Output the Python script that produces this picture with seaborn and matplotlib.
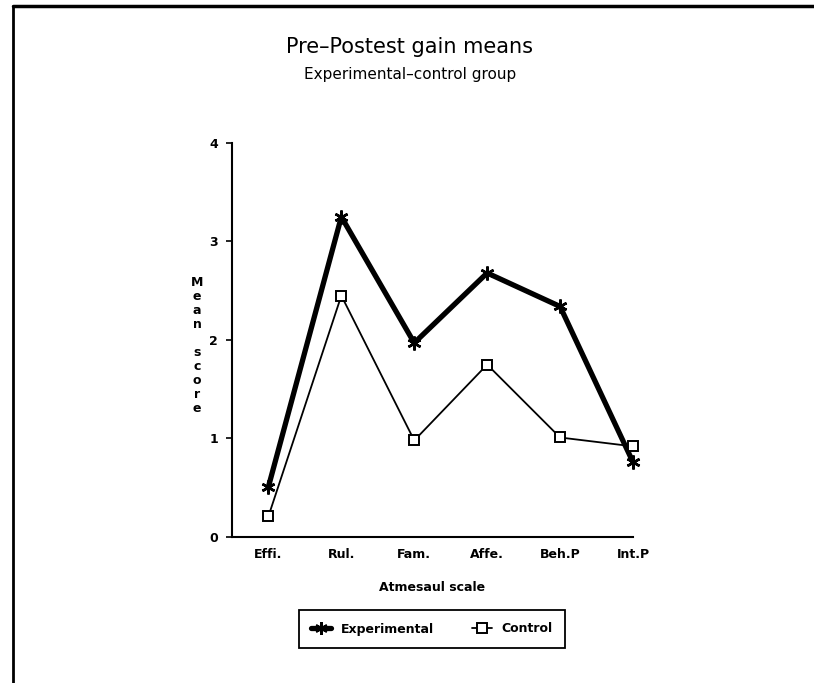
import numpy as np
import pandas as pd
import matplotlib
matplotlib.use('Agg')
import matplotlib.pyplot as plt
import seaborn as sns
from matplotlib.lines import Line2D

# ==============================================
# data
scales = ['Effi.', 'Rul.', 'Fam.', 'Affe.', 'Beh.P', 'Int.P']
experimental = [0.51, 3.25, 1.97, 2.68, 2.34, 0.76]
control = [0.21, 2.45, 0.98, 1.75, 1.01, 0.92]

df = pd.DataFrame({
    'scale': scales * 2,
    'score': experimental + control,
    'group': ['Experimental'] * len(scales) + ['Control'] * len(scales),
})

# ==============================================
sns.set_theme(style='white')
plt.rcParams['font.family'] = ['DejaVu Sans']
plt.rcParams.update({'text.color': 'black', 'axes.labelcolor': 'black',
                     'xtick.color': 'black', 'ytick.color': 'black'})

fig = plt.figure(figsize=(8.14, 6.83), dpi=100)
ax = fig.add_axes([0.285, 0.2138, 0.4926, 0.5769])

sns.lineplot(data=df[df.group == 'Experimental'], x='scale', y='score', sort=False,
             color='black', linewidth=3.8, marker=(6, 2, 0), markersize=10,
             markeredgewidth=1.8, markeredgecolor='black', clip_on=False, ax=ax)
sns.lineplot(data=df[df.group == 'Control'], x='scale', y='score', sort=False,
             color='black', linewidth=1.3, marker='s', markersize=7,
             markerfacecolor='white', markeredgewidth=1.4, markeredgecolor='black',
             clip_on=False, ax=ax)

ax.set_xlim(-0.5, 5)
ax.set_ylim(0, 4)
ax.set_yticks([0, 1, 2, 3, 4])
ax.set_xlabel('Atmesaul scale', fontsize=9, fontweight='bold', labelpad=14)
ax.set_ylabel('')
sns.despine(ax=ax)
for side in ['left', 'bottom']:
    ax.spines[side].set_color('black')
    ax.spines[side].set_linewidth(1.5)
ax.tick_params(axis='y', direction='out', length=4, width=1.2, color='black',
               labelsize=9, pad=6, left=True)
ax.tick_params(axis='x', length=0, labelsize=9, pad=8)
for lbl in ax.get_xticklabels() + ax.get_yticklabels():
    lbl.set_fontweight('bold')

# stacked y label
fig.text(197 / 814, 1 - 345 / 683, '\n'.join('Mean score'), ha='center', va='center',
         fontsize=9, fontweight='bold', linespacing=1.1)

# titles
fig.text(410 / 814, 1 - 47 / 683, 'Pre\u2013Postest gain means', ha='center', va='center', fontsize=15)
fig.text(410 / 814, 1 - 74 / 683, 'Experimental\u2013control group', ha='center', va='center', fontsize=11)

# legend
handles = [
    Line2D([], [], color='black', linewidth=3.8, marker=(6, 2, 0), markersize=9, markeredgewidth=1.8),
    Line2D([], [], color='black', linewidth=1.3, marker='s', markersize=7,
           markerfacecolor='white', markeredgewidth=1.4),
]
leg = fig.legend(handles, ['Experimental', 'Control'], loc='center', ncol=2,
                 bbox_to_anchor=(432 / 814, 1 - 629 / 683), fancybox=False,
                 edgecolor='black', framealpha=1, handlelength=1.6, columnspacing=3.0,
                 borderpad=1.0, borderaxespad=0, prop={'size': 9, 'weight': 'bold'})
leg.get_frame().set_linewidth(1.3)

# page border (top and left edges)
fig.add_artist(Line2D([13 / 814, 13 / 814], [0, 1 - 6 / 683], color='black', linewidth=2,
                      transform=fig.transFigure))
fig.add_artist(Line2D([13 / 814, 1], [1 - 6 / 683, 1 - 6 / 683], color='black', linewidth=2.5,
                      transform=fig.transFigure))

fig.savefig('out.png', dpi=100)
